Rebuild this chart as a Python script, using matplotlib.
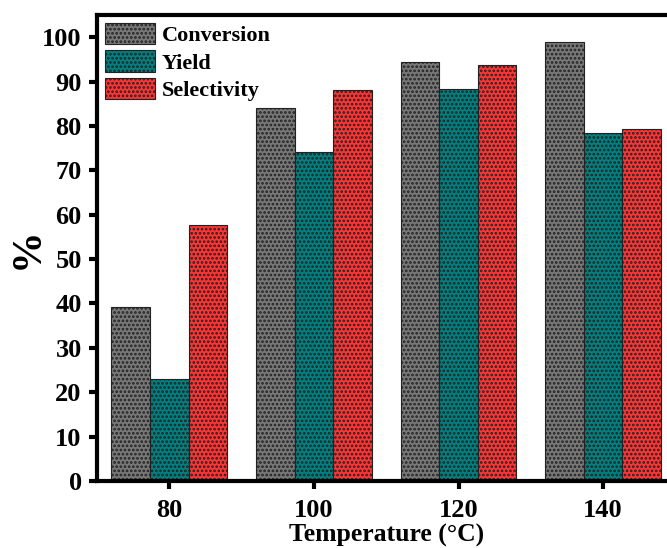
import matplotlib
matplotlib.use("Agg")
import matplotlib.pyplot as plt
import numpy as np

temps = ["80", "100", "120", "140"]
conversion = [39.3, 84.0, 94.3, 98.8]
yield_ = [23.0, 74.1, 88.4, 78.4]
selectivity = [57.7, 88.1, 93.7, 79.2]

series = [("Conversion", conversion, "#787878"),
          ("Yield", yield_, "#008080"),
          ("Selectivity", selectivity, "#ff3535")]

plt.rcParams["font.family"] = ["Liberation Serif", "DejaVu Serif"]
plt.rcParams["font.weight"] = "bold"
plt.rcParams["hatch.color"] = "black"
plt.rcParams["hatch.linewidth"] = 1.3

fig = plt.figure(figsize=(6.67, 5.48), dpi=100)
ax = fig.add_axes([0.1454, 0.1223, 0.8673, 0.8504])

x = np.arange(len(temps))
w = 0.267
for i, (name, vals, col) in enumerate(series):
    ax.bar(x + (i - 1) * w, vals, w, color=col, edgecolor="#222222",
           linewidth=0.8, hatch="....", label=name)

ax.set_xlim(-0.5, 3.5)
ax.set_ylim(0, 105)
ax.set_xticks(x)
ax.set_xticklabels(temps)
ax.set_yticks(np.arange(0, 101, 10))
ax.tick_params(axis="both", direction="out", length=6, width=3, labelsize=19)
ax.tick_params(axis="x", pad=7)
ax.tick_params(axis="y", pad=5)
for s in ax.spines.values():
    s.set_linewidth(3)

ax.set_xlabel("Temperature (\u00b0C)", fontsize=18.5, fontweight="bold", labelpad=1)
ax.set_ylabel("%", fontsize=30, fontweight="bold")
ax.yaxis.set_label_coords(-0.086, 0.5)

ax.legend(loc="upper left", frameon=False, fontsize=16, handlelength=2.25,
          handleheight=1.1, handletextpad=0.3, labelspacing=0.2,
          borderaxespad=0.15, borderpad=0.2)

fig.savefig("out.png", dpi=100)
